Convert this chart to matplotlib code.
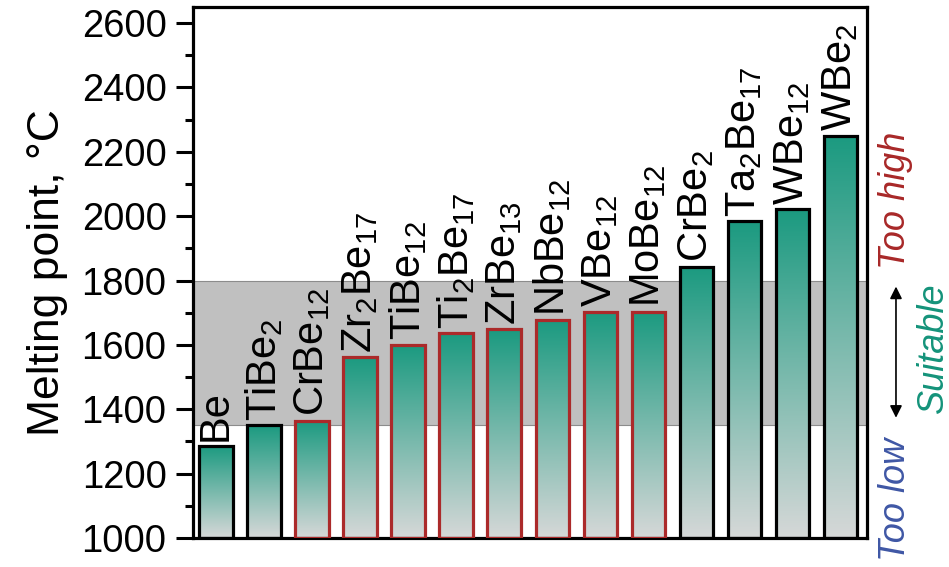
import matplotlib
matplotlib.use("Agg")
import matplotlib.pyplot as plt
import matplotlib.transforms as mtransforms
from matplotlib.colors import LinearSegmentedColormap
from matplotlib.ticker import MultipleLocator
import numpy as np

plt.rcParams['font.family'] = ['Liberation Sans', 'DejaVu Sans']
plt.rcParams['mathtext.fontset'] = 'custom'
plt.rcParams['mathtext.rm'] = 'Liberation Sans'
plt.rcParams['mathtext.it'] = 'Liberation Sans:italic'

# === DATA ===
compounds = ["Be", r"TiBe$_2$", r"CrBe$_{12}$", r"Zr$_2$Be$_{17}$", r"TiBe$_{12}$",
             r"Ti$_2$Be$_{17}$", r"ZrBe$_{13}$", r"NbBe$_{12}$", r"VBe$_{12}$",
             r"MoBe$_{12}$", r"CrBe$_2$", r"Ta$_2$Be$_{17}$", r"WBe$_{12}$", r"WBe$_2$"]
melting_points = [1287, 1350, 1365, 1562, 1600, 1636, 1649, 1677, 1703, 1703,
                  1843, 1984, 2022, 2250]
in_range = [False, False, True, True, True, True, True, True, True, True,
            False, False, False, False]
suitable_low = 1350
suitable_high = 1800

# === STYLE ===
TEAL = "#1b9a80"
LIGHT = "#d6d8d8"
RED_EDGE = "#ab2a2a"
grad = LinearSegmentedColormap.from_list("tealfade", [LIGHT, TEAL])

fig = plt.figure(figsize=(9.49, 5.67), dpi=100)
ax = fig.add_axes([193 / 949, 1 - 538 / 567, (867 - 193) / 949, (538 - 7) / 567])

# suitable range band
ax.axhspan(suitable_low, suitable_high, facecolor="#c0c0c0", edgecolor="#8c8c8c",
           linewidth=0.8, zorder=0)

x = np.arange(len(compounds))
edges = [RED_EDGE if ok else "black" for ok in in_range]
bars = ax.bar(x, [v - 1000 for v in melting_points], bottom=1000, width=0.7,
              facecolor="none", edgecolor=edges, linewidth=2.3, zorder=3)

# vertical gradient inside each bar
ramp = np.linspace(0, 1, 256).reshape(-1, 1)
for b in bars:
    x0, y0 = b.get_x(), b.get_y()
    im = ax.imshow(ramp, cmap=grad, origin="lower", aspect="auto",
                   extent=[x0, x0 + b.get_width(), y0, y0 + b.get_height()], zorder=2)
    im.set_clip_path(b)

for xi, v, name in zip(x, melting_points, compounds):
    ax.text(xi, v + 14, name, rotation=90, ha="center", va="bottom", fontsize=30,
            zorder=4)

ax.set_xlim(-0.48, 13.55)
ax.set_ylim(1000, 2650)
ax.set_xticks([])
ax.yaxis.set_major_locator(MultipleLocator(200))
ax.yaxis.set_minor_locator(MultipleLocator(100))
ax.tick_params(axis="y", which="major", length=12, width=2.2, labelsize=27.5, pad=7)
ax.tick_params(axis="y", which="minor", length=6, width=2.2)
for s in ax.spines.values():
    s.set_linewidth(2.3)
ax.set_ylabel("Melting point, °C", fontsize=32, labelpad=10)

# range annotations to the right of the axes
trans = mtransforms.blended_transform_factory(ax.transAxes, ax.transData)
ax.text(1.042, 2050, "Too high", transform=trans, rotation=90, ha="center", va="center",
        fontsize=26, style="italic", color="#a82828", clip_on=False)
ax.text(1.098, 1590, "Suitable", transform=trans, rotation=90, ha="center", va="center",
        fontsize=26, style="italic", color="#14937a", clip_on=False)
ax.text(1.042, 1120, "Too low", transform=trans, rotation=90, ha="center", va="center",
        fontsize=26, style="italic", color="#3f57a5", clip_on=False)
ax.annotate("", xy=(1.043, 1365), xytext=(1.043, 1790), xycoords=trans, textcoords=trans,
            arrowprops=dict(arrowstyle="<|-|>", color="black", lw=1.2,
                            mutation_scale=18), annotation_clip=False)

fig.savefig("out.png", dpi=100)
